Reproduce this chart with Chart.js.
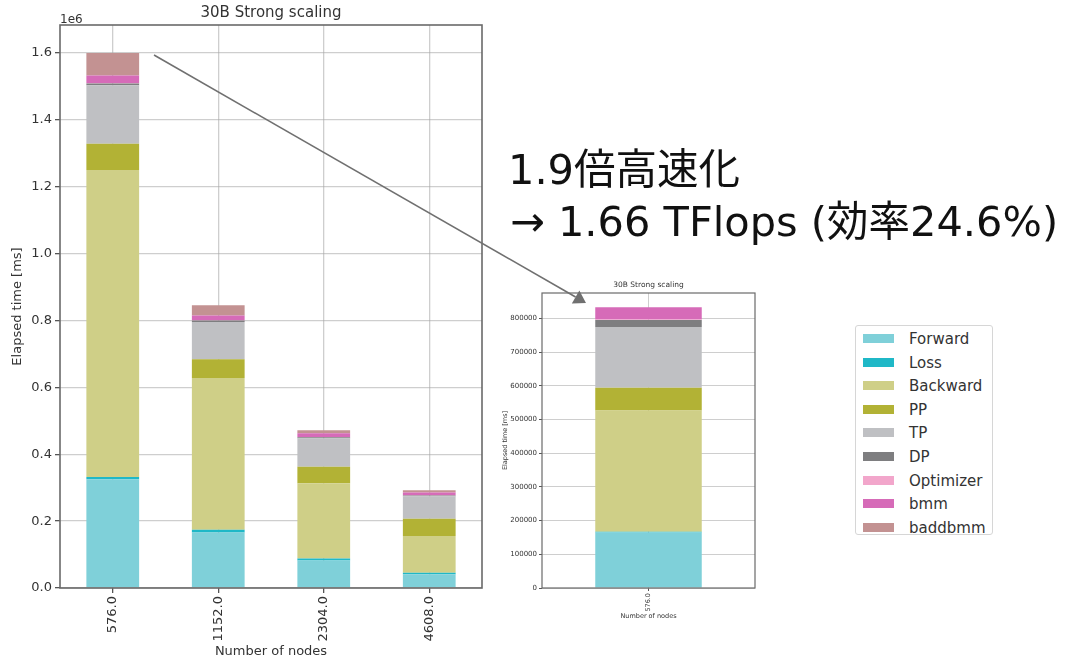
<!DOCTYPE html>
<html>
<head>
<meta charset="utf-8">
<title>30B Strong scaling</title>
<script src="https://cdn.jsdelivr.net/npm/chart.js@4.4.1/dist/chart.umd.min.js"></script>
<style>
  html, body { margin: 0; padding: 0; background: #ffffff; }
  body { width: 1081px; height: 666px; position: relative; overflow: hidden; font-family: 'DejaVu Sans', sans-serif; }
  #mainChart { position: absolute; left: 0; top: 0; }
  #singleChart { position: absolute; left: 490px; top: 270px; }
  #legend { position: absolute; left: 855px; top: 325px; width: 136px; height: 208px;
            border: 1px solid #d6d6d6; border-radius: 3px; background: #fff; }
  #legend .row { position: absolute; left: 0; height: 20px; width: 136px; }
  #legend .sw { position: absolute; left: 7px; top: 5px; width: 31px; height: 9px; }
  #legend .lb { position: absolute; left: 53px; top: 0; font: 15px 'DejaVu Sans', sans-serif; line-height: 20px; color: #333; white-space: nowrap; }
  #overlay { position: absolute; left: 0; top: 0; pointer-events: none; }
</style>
</head>
<body>
<canvas id="mainChart" width="490" height="666"></canvas>
<canvas id="singleChart" width="275" height="360"></canvas>
<div id="legend"></div>
<svg id="overlay" width="1081" height="666" xmlns="http://www.w3.org/2000/svg">
  <line x1="154" y1="55" x2="575.6" y2="297" stroke="#707070" stroke-width="1.6"/>
  <polygon points="586,303 571.85,303.5 579.35,290.5" fill="#707070"/>
  <text x="508" y="184" font-family="DejaVu Sans, Noto Sans CJK JP, sans-serif" font-size="41.5" fill="#111">1.9倍高速化</text>
  <text x="510" y="236" font-family="DejaVu Sans, Noto Sans CJK JP, sans-serif" font-size="41.5" fill="#111">→ 1.66 TFlops (効率24.6%)</text>
</svg>

<script>
// Phases of one training step, stacked bottom to top
const phaseNames  = ['Forward', 'Loss', 'Backward', 'PP', 'TP', 'DP', 'Optimizer', 'bmm', 'baddbmm'];
const phaseColors = ['#7fd0d9', '#1fb8c7', '#cfcf87', '#b2b235', '#bfc0c3', '#7e7e80', '#f2a6cb', '#d66bb8', '#c39292'];

// Strong scaling runs: elapsed time per phase for each node count
const nodeLabels = ['576.0', '1152.0', '2304.0', '4608.0'];
const forward    = [325000, 166000, 82000, 41000];
const loss       = [7000, 8000, 6000, 4500];
const backward   = [918000, 454000, 225000, 110000];
const pp         = [79000, 56000, 50000, 52000];
const tp         = [175000, 112000, 85000, 67000];
const dp         = [5000, 4000, 3000, 2000];
const optimizer  = [1000, 1000, 1000, 1000];
const bmm        = [23000, 14000, 11000, 8000];
const baddbmm    = [67000, 31000, 9000, 7000];

// Tuned run on 576 nodes, same phase order as phaseNames
const tunedLabels = ['576.0'];
const tuned576    = [165000, 2000, 360000, 68000, 180000, 21000, 1000, 37000, 0];

// Y tick values of both charts
const mainTicks  = [0, 200000, 400000, 600000, 800000, 1000000, 1200000, 1400000, 1600000];
const mainMax    = 1684000;
const tunedTicks = [0, 100000, 200000, 300000, 400000, 500000, 600000, 700000, 800000];
const tunedMax   = 876000;

Chart.defaults.font.family = "'DejaVu Sans', sans-serif";
Chart.defaults.color = '#333';

function stackedSets(series) {
  return phaseNames.map((name, i) => ({
    label: name,
    data: series[i],
    backgroundColor: phaseColors[i],
    borderWidth: 0,
    barPercentage: 0.5,
    categoryPercentage: 1.0
  }));
}

// Full box around the plot area, plus the optional axis multiplier text
const framePlugin = {
  id: 'frame',
  afterDraw(chart, args, opts) {
    const { ctx, chartArea: a } = chart;
    ctx.save();
    ctx.strokeStyle = opts.color || '#666';
    ctx.lineWidth = opts.width || 1.5;
    ctx.strokeRect(a.left, a.top, a.right - a.left, a.bottom - a.top);
    if (opts.multiplier) {
      ctx.fillStyle = '#333';
      ctx.font = opts.multiplierFont;
      ctx.textAlign = 'left';
      ctx.textBaseline = 'alphabetic';
      ctx.fillText(opts.multiplier, a.left, a.top - 2.5);
    }
    ctx.restore();
  }
};

function buildOptions(cfg) {
  return {
    responsive: false,
    animation: false,
    devicePixelRatio: 1,
    layout: { padding: { right: cfg.padRight } },
    plugins: {
      legend: { display: false },
      tooltip: { enabled: false },
      title: {
        display: true, text: '30B Strong scaling', fullSize: false, color: '#333',
        font: { size: cfg.titleSize, weight: 'normal', lineHeight: 1.2 },
        padding: cfg.titlePad
      },
      frame: { color: '#6a6a6a', width: cfg.frameWidth, multiplier: cfg.multiplier, multiplierFont: cfg.multiplierFont }
    },
    scales: {
      x: {
        stacked: true, z: 1,
        grid: { offset: false, color: 'rgba(165,165,165,0.55)', lineWidth: cfg.gridWidth, tickColor: '#555', tickLength: cfg.tickLen },
        border: { display: false },
        ticks: { color: '#333', font: { size: cfg.xTickSize }, maxRotation: 90, minRotation: 90, padding: cfg.tickPad, autoSkip: false },
        title: { display: true, text: 'Number of nodes', color: '#333', font: { size: cfg.axisTitleSize }, padding: { top: 0, bottom: cfg.xTitleBottom } },
        afterFit(s) { s.height = cfg.xHeight; }
      },
      y: {
        stacked: true, z: 1, min: 0, max: cfg.yMax,
        grid: { color: 'rgba(165,165,165,0.55)', lineWidth: cfg.gridWidth, tickColor: '#555', tickLength: cfg.tickLen },
        border: { display: false },
        ticks: { color: '#333', font: { size: cfg.yTickSize }, padding: cfg.tickPad, autoSkip: false, callback: cfg.yFormat },
        afterBuildTicks(s) { s.ticks = cfg.yTicks.map(v => ({ value: v })); },
        title: { display: true, text: 'Elapsed time [ms]', color: '#333', font: { size: cfg.axisTitleSize }, padding: { top: cfg.yTitleTop, bottom: 0 } },
        afterFit(s) { s.width = cfg.yWidth; }
      }
    }
  };
}

new Chart(document.getElementById('mainChart'), {
  type: 'bar',
  data: {
    labels: nodeLabels,
    datasets: stackedSets([forward, loss, backward, pp, tp, dp, optimizer, bmm, baddbmm])
  },
  options: buildOptions({
    padRight: 8, titleSize: 15, titlePad: { top: 4, bottom: 3 },
    frameWidth: 1.6, gridWidth: 1.3, tickLen: 5, tickPad: 3,
    xTickSize: 13, yTickSize: 13, axisTitleSize: 13,
    xTitleBottom: 6.5, xHeight: 78, yTitleTop: 10, yWidth: 60,
    yMax: mainMax, yTicks: mainTicks,
    yFormat: v => (v / 1e6).toFixed(1),
    multiplier: '1e6', multiplierFont: "12px 'DejaVu Sans'"
  }),
  plugins: [framePlugin]
});

new Chart(document.getElementById('singleChart'), {
  type: 'bar',
  data: {
    labels: tunedLabels,
    datasets: stackedSets(tuned576.map(v => [v]))
  },
  options: buildOptions({
    padRight: 10, titleSize: 7.5, titlePad: { top: 11, bottom: 3 },
    frameWidth: 1.2, gridWidth: 1, tickLen: 3, tickPad: 2,
    xTickSize: 6.5, yTickSize: 7, axisTitleSize: 6.5,
    xTitleBottom: 9.4, xHeight: 42, yTitleTop: 11, yWidth: 52,
    yMax: tunedMax, yTicks: tunedTicks,
    yFormat: v => String(v),
    multiplier: null
  }),
  plugins: [framePlugin]
});

// Legend listing the phases
const legendBox = document.getElementById('legend');
phaseNames.forEach((name, i) => {
  const row = document.createElement('div');
  row.className = 'row';
  row.style.top = (3 + 23.6 * i) + 'px';
  const sw = document.createElement('div');
  sw.className = 'sw';
  sw.style.background = phaseColors[i];
  const lb = document.createElement('div');
  lb.className = 'lb';
  lb.textContent = name;
  row.appendChild(sw);
  row.appendChild(lb);
  legendBox.appendChild(row);
});
</script>
</body>
</html>
